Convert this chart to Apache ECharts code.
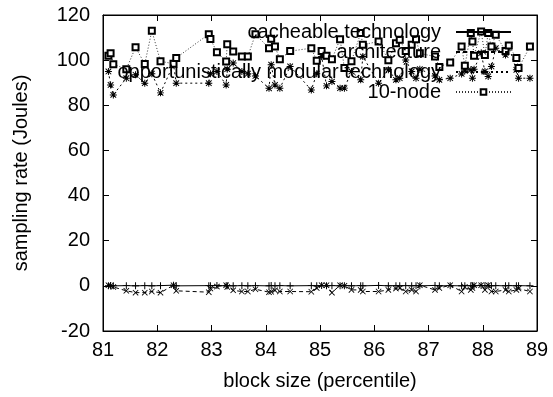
<!DOCTYPE html>
<html>
<head>
<meta charset="utf-8">
<script src="https://cdn.jsdelivr.net/npm/echarts@6/dist/echarts.min.js"></script>
<style>
    html, body {margin: 0; padding: 0; background: #fff;}
    #main {width: 553px; height: 397px;}
</style>
</head>
<body>
<div id="main"></div>
<script>
// block size (percentile)
var blockSize = [81.10, 81.14, 81.19, 81.43, 81.60, 81.77, 81.90, 82.06, 82.30, 82.35,
    82.95, 82.98, 83.10, 83.27, 83.29, 83.40, 83.56, 83.67, 83.81, 84.06,
    84.10, 84.17, 84.26, 84.45, 84.84, 84.94, 85.03, 85.12, 85.22, 85.37,
    85.45, 85.58, 85.75, 85.79, 86.08, 86.26, 86.40, 86.47, 86.58, 86.69,
    86.77, 86.84, 87.12, 87.20, 87.40, 87.61, 87.67, 87.78, 87.81, 87.84,
    87.97, 88.04, 88.10, 88.16, 88.24, 88.42, 88.48, 88.62, 88.66, 88.87];

var cacheable = [0.0, 0.2, 0.0, 0.1, 0.0, 0.1, 0.0, 0.1, 0.3, 0.0,
    0.1, 0.0, 0.2, 0.0, 0.1, 0.0, 0.1, 0.0, 0.1, 0.0,
    0.2, 0.0, 0.1, 0.0, 0.1, 0.0, 0.2, 0.0, 0.1, 0.0,
    0.1, 0.0, 0.1, 0.0, 0.2, 0.0, 0.1, 0.0, 0.1, 0.0,
    0.1, 0.0, 0.2, 0.0, 0.1, 0.0, 0.1, 0.0, 0.1, 0.0,
    0.2, 0.0, 0.1, 0.0, 0.1, 0.0, 0.1, 0.0, 0.1, 0.0];

var architecture = [0.3, 0.0, -0.5, -2.2, -3.0, -3.0, -2.5, -3.0, 0.3, -2.2,
    -2.8, -1.2, -0.3, 0.3, -0.5, -2.0, -2.5, -2.5, -1.5, -2.8,
    -2.6, -2.0, -2.5, -2.5, -2.6, -1.0, 0.3, 0.3, -3.0, 0.3,
    0.0, -1.8, -1.8, -2.5, -2.5, -1.8, -1.2, -1.0, -2.5, -1.8,
    -2.5, 0.3, -1.8, -1.0, 0.3, -2.5, -0.5, -1.8, -1.0, 0.3,
    0.3, -1.8, 0.3, -2.5, -2.5, -1.8, -2.5, -1.8, -1.2, -2.5];

var opportunistic = [95.0, 89.0, 84.6, 92.0, 93.5, 89.8, 94.0, 85.5, 98.2, 89.8,
    89.8, 94.0, 95.0, 89.0, 96.0, 98.7, 95.0, 94.0, 93.0, 87.5,
    98.0, 89.0, 87.5, 97.2, 86.8, 94.0, 101.6, 88.6, 90.5, 87.6,
    87.6, 95.0, 91.3, 101.6, 89.8, 95.7, 91.3, 92.0, 100.1, 95.0,
    92.0, 96.0, 93.0, 91.3, 92.0, 93.9, 95.3, 95.7, 92.0, 96.0,
    103.1, 95.0, 92.8, 97.2, 105.3, 102.3, 106.0, 95.7, 92.0, 92.0];

var tenNode = [101.9, 103.0, 98.2, 96.0, 105.7, 98.3, 113.0, 99.5, 98.4, 101.0,
    111.5, 109.4, 103.5, 99.4, 107.0, 103.8, 101.6, 101.6, 111.5, 105.3,
    109.5, 106.0, 100.4, 104.0, 105.3, 99.7, 104.0, 101.9, 100.4, 109.3,
    96.5, 99.5, 112.0, 106.8, 108.3, 100.0, 107.5, 109.0, 104.0, 106.8,
    109.3, 103.0, 101.6, 97.0, 99.0, 106.0, 97.5, 112.0, 108.3, 101.9,
    112.7, 102.3, 112.0, 106.0, 111.2, 104.1, 106.5, 100.9, 96.5, 106.0];

var legendNames = ['cacheable technology', 'architecture', 'opportunistically modular technology', '10-node'];

// gnuplot style point shapes
var plusPath = 'path://M4.3,0H5.7V4.3H10V5.7H5.7V10H4.3V5.7H0V4.3H4.3Z';
var crossPath = 'path://M0,1L1,0L5,4L9,0L10,1L6,5L10,9L9,10L5,6L1,10L0,9L4,5Z';
var starPath = 'path://M4.3,0H5.7V4.3H10V5.7H5.7V10H4.3V5.7H0V4.3H4.3Z' +
    'M0.5,1.5L1.5,0.5L5,4L8.5,0.5L9.5,1.5L6,5L9.5,8.5L8.5,9.5L5,6L1.5,9.5L0.5,8.5L4,5Z';

function pairs(ys) {
    var out = [];
    for (var i = 0; i < blockSize.length; i++) {
        out.push([blockSize[i], ys[i]]);
    }
    return out;
}

var font = 'Liberation Sans, Arial, Helvetica, sans-serif';

var myChart = echarts.init(document.getElementById('main'), null, {renderer: 'canvas'});

var option = {
    animation: false,
    backgroundColor: '#fff',
    textStyle: {fontFamily: font, color: '#000'},
    grid: {
        left: 103,
        right: 16,
        top: 15,
        bottom: 66,
        show: true,
        borderColor: '#000',
        borderWidth: 1
    },
    legend: {
        orient: 'vertical',
        align: 'right',
        right: 36,
        top: 17,
        itemWidth: 55,
        itemHeight: 7,
        itemGap: 0,
        data: legendNames,
        textStyle: {
            fontFamily: font,
            fontSize: 20,
            color: '#000',
            lineHeight: 20,
            padding: [0, 10, 0, 0]
        }
    },
    xAxis: [
        {
            type: 'value',
            min: 81,
            max: 89,
            interval: 1,
            name: 'block size (percentile)',
            nameLocation: 'middle',
            nameGap: 40,
            nameTextStyle: {fontFamily: font, fontSize: 20, color: '#000'},
            axisLine: {show: true, onZero: false, lineStyle: {color: '#000', width: 1}},
            axisTick: {show: true, inside: true, length: 6, lineStyle: {color: '#000'}},
            axisLabel: {fontFamily: font, fontSize: 20, color: '#000', margin: 9},
            splitLine: {show: false}
        },
        {
            type: 'value',
            position: 'top',
            min: 81,
            max: 89,
            interval: 1,
            axisLine: {show: true, onZero: false, lineStyle: {color: '#000', width: 1}},
            axisTick: {show: true, inside: true, length: 6, lineStyle: {color: '#000'}},
            axisLabel: {show: false},
            splitLine: {show: false}
        }
    ],
    yAxis: [
        {
            type: 'value',
            min: -20,
            max: 120,
            interval: 20,
            name: 'sampling rate (Joules)',
            nameLocation: 'middle',
            nameRotate: 90,
            nameGap: 72,
            nameTextStyle: {fontFamily: font, fontSize: 20, color: '#000'},
            axisLine: {show: true, onZero: false, lineStyle: {color: '#000', width: 1}},
            axisTick: {show: true, inside: true, length: 6, lineStyle: {color: '#000'}},
            axisLabel: {fontFamily: font, fontSize: 20, color: '#000', margin: 13},
            splitLine: {show: false}
        },
        {
            type: 'value',
            position: 'right',
            min: -20,
            max: 120,
            interval: 20,
            axisLine: {show: true, onZero: false, lineStyle: {color: '#000', width: 1}},
            axisTick: {show: true, inside: true, length: 6, lineStyle: {color: '#000'}},
            axisLabel: {show: false},
            splitLine: {show: false}
        }
    ],
    series: [
        {
            name: legendNames[0],
            type: 'line',
            data: pairs(cacheable),
            symbol: plusPath,
            symbolSize: 7,
            lineStyle: {color: '#000', width: 1, type: 'solid'},
            itemStyle: {color: '#000'}
        },
        {
            name: legendNames[1],
            type: 'line',
            data: pairs(architecture),
            symbol: crossPath,
            symbolSize: 6,
            lineStyle: {color: '#000', width: 1, type: [4, 3]},
            itemStyle: {color: '#000'}
        },
        {
            name: legendNames[2],
            type: 'line',
            data: pairs(opportunistic),
            symbol: starPath,
            symbolSize: 7,
            lineStyle: {color: '#000', width: 1, type: [2, 3]},
            itemStyle: {color: '#000'}
        },
        {
            name: legendNames[3],
            type: 'line',
            data: pairs(tenNode),
            symbol: 'emptyRect',
            symbolSize: 6,
            lineStyle: {color: '#333', width: 1, type: [1, 2]},
            itemStyle: {color: '#000', borderWidth: 1}
        }
    ]
};

myChart.setOption(option);
</script>
</body>
</html>
